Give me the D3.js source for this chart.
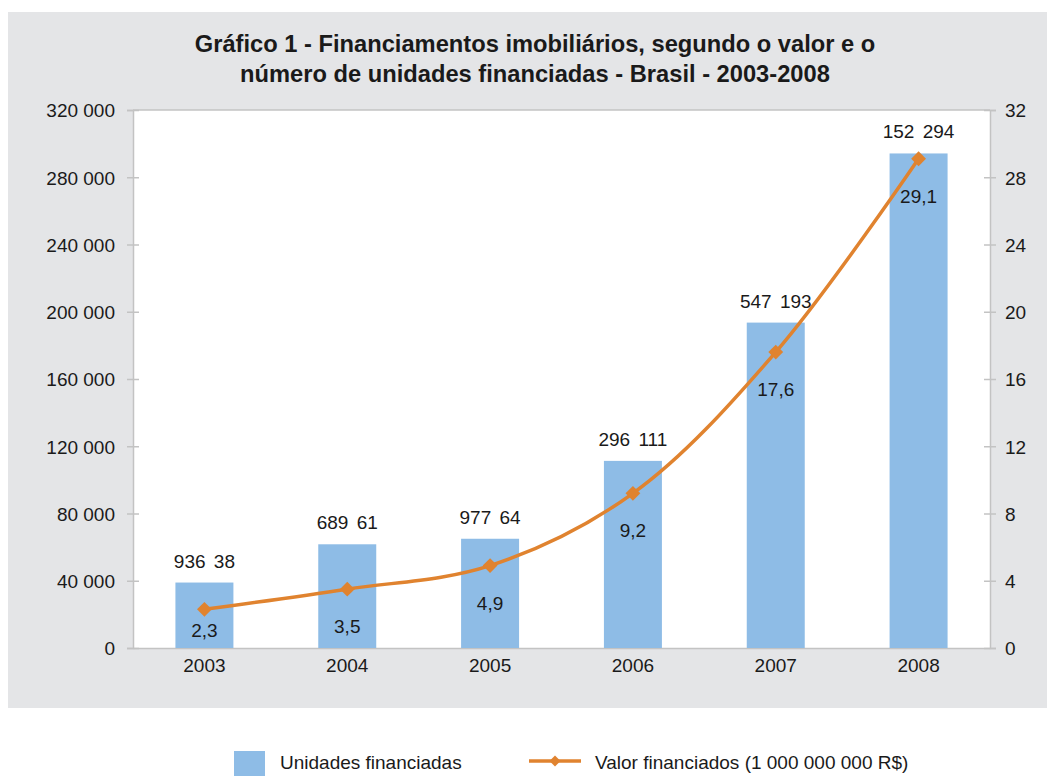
<!DOCTYPE html>
<html>
<head>
<meta charset="utf-8">
<script src="https://cdn.jsdelivr.net/npm/d3@7"></script>
<style>
  body { margin: 0; background: #ffffff; }
  text { font-family: "Liberation Sans", Arial, sans-serif; fill: #1a1a1a; }
</style>
</head>
<body>
<div id="chart-area"></div>
<script>
// dados
const anos = ["2003", "2004", "2005", "2006", "2007", "2008"];
const unidades = [38936, 61689, 64977, 111296, 193547, 294152];
const unidadesRotulos = ["936 38", "689 61", "977 64", "296 111", "547 193", "152 294"];
const valores = [2.3, 3.5, 4.9, 9.2, 17.6, 29.1];
const valoresRotulos = ["2,3", "3,5", "4,9", "9,2", "17,6", "29,1"];
const ticksEsq = [0, 40000, 80000, 120000, 160000, 200000, 240000, 280000, 320000];
const ticksDir = [0, 4, 8, 12, 16, 20, 24, 28, 32];

const W = 1055, H = 776;
const plot = { left: 133, top: 110, right: 990, bottom: 648 };

const svg = d3.select("#chart-area").append("svg")
    .attr("width", W)
    .attr("height", H);

// painel cinza
svg.append("rect")
    .attr("x", 8).attr("y", 12)
    .attr("width", 1039).attr("height", 696)
    .attr("fill", "#e4e5e7");

svg.append("rect")
    .attr("x", plot.left).attr("y", plot.top)
    .attr("width", plot.right - plot.left).attr("height", plot.bottom - plot.top)
    .attr("fill", "#ffffff");

// titulo
const titulo = svg.append("text")
    .attr("text-anchor", "middle")
    .style("font-weight", "bold")
    .style("font-size", "23.7px");
titulo.append("tspan").attr("x", 535).attr("y", 52)
    .text("Gráfico 1 - Financiamentos imobiliários, segundo o valor e o");
titulo.append("tspan").attr("x", 535).attr("y", 82)
    .text("número de unidades financiadas - Brasil - 2003-2008");

// escalas
const x = d3.scaleBand().domain(anos)
    .range([plot.left, plot.right])
    .paddingInner(0.594).paddingOuter(0.297);
const yE = d3.scaleLinear().domain([0, 320000]).range([plot.bottom, plot.top]);
const yD = d3.scaleLinear().domain([0, 32]).range([plot.bottom, plot.top]);

const fmt = d => d3.format(",")(d).replace(/,/g, " ");

// eixos
const eixoE = svg.append("g")
    .attr("transform", `translate(${plot.left},0)`)
    .call(d3.axisLeft(yE).tickValues(ticksEsq).tickFormat(fmt).tickSize(6).tickPadding(12));
const eixoD = svg.append("g")
    .attr("transform", `translate(${plot.right},0)`)
    .call(d3.axisRight(yD).tickValues(ticksDir).tickSize(6).tickPadding(9));
[eixoE, eixoD].forEach(g => {
    g.select(".domain").attr("stroke", "#c3c3c3").attr("stroke-width", 1.5);
    g.selectAll(".tick line").attr("stroke", "#c3c3c3").attr("stroke-width", 1.5);
    g.selectAll(".tick text").style("font-size", "19px").attr("fill", "#1a1a1a")
        .attr("dy", "0.36em");
});
// tracinhos cruzando o eixo
eixoE.selectAll(".tick line").attr("x1", 6);
eixoD.selectAll(".tick line").attr("x1", -6);

// linha superior e eixo x
svg.append("line")
    .attr("x1", plot.left).attr("x2", plot.right)
    .attr("y1", plot.top).attr("y2", plot.top)
    .attr("stroke", "#c3c3c3").attr("stroke-width", 1.5);

const eixoX = svg.append("g")
    .attr("transform", `translate(0,${plot.bottom})`)
    .call(d3.axisBottom(x).tickSize(0).tickPadding(11));
eixoX.select(".domain").attr("stroke", "#c3c3c3").attr("stroke-width", 1.5);
eixoX.selectAll(".tick text").style("font-size", "19px").attr("fill", "#1a1a1a");

// barras
const corBarra = "#8ebce6";
const corLinha = "#e0832f";

svg.append("g").selectAll("rect")
    .data(anos)
    .join("rect")
    .attr("x", d => x(d))
    .attr("y", (d, i) => yE(unidades[i]))
    .attr("width", x.bandwidth())
    .attr("height", (d, i) => plot.bottom - yE(unidades[i]))
    .attr("fill", corBarra);

svg.append("g").selectAll("text")
    .data(anos)
    .join("text")
    .attr("x", d => x(d) + x.bandwidth() / 2)
    .attr("y", (d, i) => yE(unidades[i]) - 15)
    .attr("text-anchor", "middle")
    .style("font-size", "19px")
    .style("word-spacing", "3px")
    .text((d, i) => unidadesRotulos[i]);

// linha
const pontos = anos.map((a, i) => [x(a) + x.bandwidth() / 2, yD(valores[i])]);

svg.append("path")
    .datum(pontos)
    .attr("fill", "none")
    .attr("stroke", corLinha)
    .attr("stroke-width", 3.5)
    .attr("stroke-linejoin", "round")
    .attr("d", d3.line().curve(d3.curveCatmullRom.alpha(0.5)));

// marcador losango (quadrado girado)
const losango = d3.symbol().type(d3.symbolSquare).size(110);
svg.append("g").selectAll("path")
    .data(pontos)
    .join("path")
    .attr("transform", d => `translate(${d[0]},${d[1]}) rotate(45)`)
    .attr("d", losango)
    .attr("fill", corLinha);

svg.append("g").selectAll("text")
    .data(pontos)
    .join("text")
    .attr("x", d => d[0])
    .attr("y", d => Math.min(d[1] + 44, plot.bottom - 11))
    .attr("text-anchor", "middle")
    .style("font-size", "19px")
    .text((d, i) => valoresRotulos[i]);

// legenda
const leg = svg.append("g");
leg.append("rect")
    .attr("x", 234).attr("y", 751)
    .attr("width", 31).attr("height", 25)
    .attr("fill", corBarra);
leg.append("text")
    .attr("x", 280).attr("y", 769)
    .style("font-size", "19px")
    .text("Unidades financiadas");
leg.append("line")
    .attr("x1", 529).attr("x2", 581)
    .attr("y1", 761).attr("y2", 761)
    .attr("stroke", corLinha).attr("stroke-width", 3.5);
leg.append("path")
    .attr("transform", "translate(555,761) rotate(45)")
    .attr("d", d3.symbol().type(d3.symbolSquare).size(60))
    .attr("fill", corLinha);
leg.append("text")
    .attr("x", 595).attr("y", 769)
    .style("font-size", "19px")
    .text("Valor financiados (1 000 000 000 R$)");
</script>
</body>
</html>
